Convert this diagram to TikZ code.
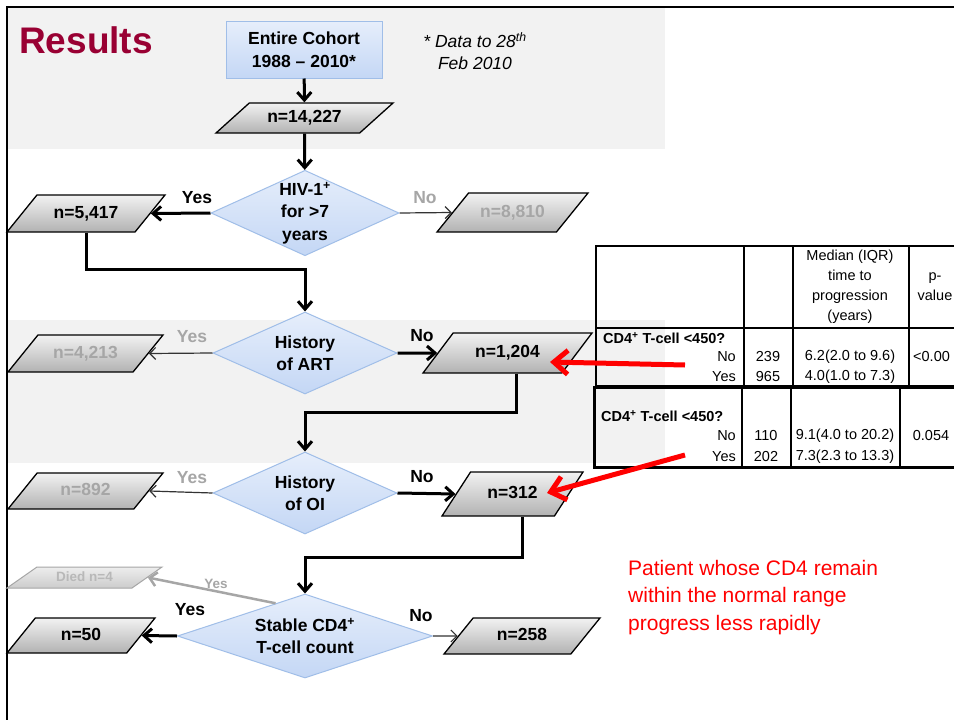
\documentclass[tikz,border=0pt]{standalone}
\usepackage{fontspec}
\setmainfont{Liberation Sans}
\usetikzlibrary{shapes.geometric,arrows.meta,calc}
\definecolor{resred}{RGB}{153,0,51}
\definecolor{bandgray}{RGB}{242,242,242}
\definecolor{boxblue}{RGB}{160,190,232}
\definecolor{bluetop}{RGB}{230,238,251}
\definecolor{bluebot}{RGB}{196,215,245}
\definecolor{greytop}{RGB}{242,242,242}
\definecolor{greybot}{RGB}{178,178,178}
\definecolor{fadetext}{RGB}{166,166,166}
\begin{document}
\begin{tikzpicture}[x=1pt,y=-1pt,
  lbl/.style={font=\fontsize{17.5}{22.5}\selectfont\bfseries},
  tbl/.style={font=\fontsize{14.5}{20}\selectfont,inner sep=0pt},
  data/.style={shape=trapezium,trapezium left angle=51,trapezium right angle=129,
    trapezium stretches body,draw=black,line width=1.3pt,top color=greytop,
    bottom color=greybot,inner xsep=0pt,text height=12.5pt,text depth=3.5pt,lbl},
  decision/.style={shape=diamond,draw=boxblue,line width=1pt,top color=bluetop,
    bottom color=bluebot,inner sep=0pt,aspect=2.2,lbl,align=center},
  flow/.style={line width=3pt,-{Straight Barb[length=8pt,width=14pt]}},
  thinflow/.style={line width=1.2pt,black!80,-{Straight Barb[length=6pt,width=12pt]}},
  fadeflow/.style={line width=2.5pt,fadetext,-{Straight Barb[length=7pt,width=14pt]}},
  redflow/.style={line width=5pt,red,-{Straight Barb[length=14pt,width=24pt]}}]
\useasboundingbox (0,0) rectangle (954,720);
\fill[white] (0,0) rectangle (954,720);
\fill[bandgray] (8,8) rectangle (665,149);
\fill[bandgray] (8,320) rectangle (665,463);
\draw[line width=2.5pt] (7,720) -- (7,7) -- (954,7);

\node[font=\fontsize{37}{37}\selectfont\bfseries,text=resred,anchor=base west,inner sep=0pt] (title) at (19,53) {Results};
\node[draw=boxblue,line width=1pt,top color=bluetop,bottom color=bluebot,minimum width=156,minimum height=57,lbl,align=center] (cohort) at (304,49.5) {Entire Cohort\\1988 -- 2010*};
\node[font=\fontsize{17.5}{21.5}\selectfont\itshape,align=center,inner sep=0pt] (note) at (475,51) {* Data to 28\textsuperscript{th}\\Feb 2010};

\node[data,trapezium left angle=42,trapezium right angle=138,minimum width=177,inner ysep=7pt] (p14227) at (304.5,118) {n=14,227};
\node[decision,minimum width=184,minimum height=84] (dhiv) at (305,213) {HIV-1\textsuperscript{+}\\for >7\\years};
\node[data,minimum width=158,inner ysep=10.5pt] (p5417) at (86,213.5) {n=5,417};
\node[data,minimum width=151,inner ysep=11.5pt,text=fadetext] (p8810) at (512.5,212.5) {n=8,810};
\node[lbl] (yes1) at (197,198) {Yes};
\node[lbl,text=fadetext] (no1) at (425,198) {No};

\node[decision,minimum width=184,minimum height=82] (dart) at (305,353) {History\\of ART};
\node[data,minimum width=155,inner ysep=10.5pt,text=fadetext] (p4213) at (85.5,353.5) {n=4,213};
\node[data,trapezium left angle=53,trapezium right angle=127,minimum width=169,inner ysep=12pt] (p1204) at (507.5,353) {n=1,204};
\node[lbl,text=fadetext] (yes2) at (192,337) {Yes};
\node[lbl] (no2) at (422,336) {No};

\node[decision,minimum width=184,minimum height=82] (doi) at (305,493) {History\\of OI};
\node[data,minimum width=155,inner ysep=10pt,text=fadetext] (p892) at (85.5,491) {n=892};
\node[data,trapezium left angle=57,trapezium right angle=123,minimum width=141,inner ysep=14pt] (p312) at (512.5,494) {n=312};
\node[lbl,text=fadetext] (yes3) at (192,478) {Yes};
\node[lbl] (no3) at (422,477) {No};

\node[decision,aspect=3.03,minimum width=255,minimum height=84] (dcd4) at (305,636) {Stable CD4\textsuperscript{+}\\T-cell count};
\node[data,trapezium left angle=35,trapezium right angle=145,minimum width=155,text height=10pt,text depth=3pt,inner ysep=4pt,
  draw=fadetext,line width=1pt,top color=white!93!black,bottom color=white!80!black,text=white!72!black,
  font=\fontsize{13.5}{16}\selectfont\bfseries] (pdied) at (84.5,577.5) {Died n=4};
\node[data,minimum width=148,inner ysep=9.5pt] (p50) at (81,635.5) {n=50};
\node[data,minimum width=156,inner ysep=10pt] (p258) at (522,636) {n=258};
\node[font=\fontsize{13.5}{16}\selectfont\bfseries,text=fadetext] (yes5) at (216,584) {Yes};
\node[lbl] (yes4) at (190,610) {Yes};
\node[lbl] (no4) at (421,616) {No};

\draw[flow] (cohort) -- (p14227);
\draw[flow] (p14227) -- (dhiv);
\draw[flow] (dhiv.west) -- (p5417.east);
\draw[thinflow] (dhiv.east) -- (p8810.west);
\coordinate (k1) at (305,269);
\draw[flow] (p5417.south) |- (k1) -- (dart.north);
\draw[thinflow] (dart.west) -- (p4213.east);
\draw[flow] (dart.east) -- (p1204.west);
\coordinate (k2) at (305,412);
\draw[flow] ([xshift=8.5pt]p1204.south) |- (k2) -- (doi.north);
\draw[thinflow] (doi.west) -- (p892.east);
\draw[flow] (doi.east) -- (p312.west);
\coordinate (k3) at (305,557);
\draw[flow] ([xshift=10pt]p312.south) |- (k3) -- (dcd4.north);
\coordinate (k4) at ($(dcd4.north)!0.23!(dcd4.west)$);
\draw[fadeflow] (k4) -- (pdied.east);
\draw[flow] (dcd4.west) -- (p50.east);
\draw[thinflow] (dcd4.east) -- (p258.west);

\draw[line width=2pt] (954,246) -- (596,246) -- (596,386) -- (954,386);
\draw[line width=2pt] (596,328) -- (954,328);
\draw[line width=2pt] (744,246) -- (744,386) (793,246) -- (793,386) (909,246) -- (909,386);
\draw[line width=3pt] (954,387) -- (594,387) -- (594,467) -- (954,467);
\draw[line width=2pt] (742,387) -- (742,467) (791,387) -- (791,467) (900,387) -- (900,467);

\node[tbl,align=center] (tmed) at (850,287) {Median (IQR)\\time to\\progression\\(years)};
\node[tbl,align=center] (tpval) at (935,286.5) {p-\\value};
\node[tbl,font=\fontsize{14.5}{20}\selectfont\bfseries,anchor=west] (tcda) at (603,338) {CD4\textsuperscript{+} T-cell <450?};
\node[tbl,anchor=east] (tnoa) at (736,357) {No};
\node[tbl,anchor=east] (tyesa) at (736,377) {Yes};
\node[tbl] (tna) at (768,357) {239};
\node[tbl] (tya) at (768,377) {965};
\node[tbl] (tmna) at (850,357) {6.2(2.0 to 9.6)};
\node[tbl] (tmya) at (850,377) {4.0(1.0 to 7.3)};
\node[tbl,anchor=west] (tpa) at (913,357) {<0.00};
\node[tbl,font=\fontsize{14.5}{20}\selectfont\bfseries,anchor=west] (tcdb) at (601,416) {CD4\textsuperscript{+} T-cell <450?};
\node[tbl,anchor=east] (tnob) at (736,436) {No};
\node[tbl,anchor=east] (tyesb) at (736,457) {Yes};
\node[tbl] (tnb) at (766,436) {110};
\node[tbl] (tyb) at (766,457) {202};
\node[tbl] (tmnb) at (845,436) {9.1(4.0 to 20.2)};
\node[tbl] (tmyb) at (845,457) {7.3(2.3 to 13.3)};
\node[tbl] (tpb) at (931,436) {0.054};

\coordinate (r1a) at (685,365);
\coordinate (r1b) at (550,362);
\draw[redflow] (r1a) -- (r1b);
\coordinate (r2a) at (685,455);
\coordinate (r2b) at (547,493);
\draw[redflow] (r2a) -- (r2b);

\node[font=\fontsize{21}{27.5}\selectfont,text=red,align=left,anchor=north west,inner sep=0pt] (remark) at (628,560) {Patient whose CD4 remain\\within the normal range\\progress less rapidly};
\end{tikzpicture}
\end{document}
